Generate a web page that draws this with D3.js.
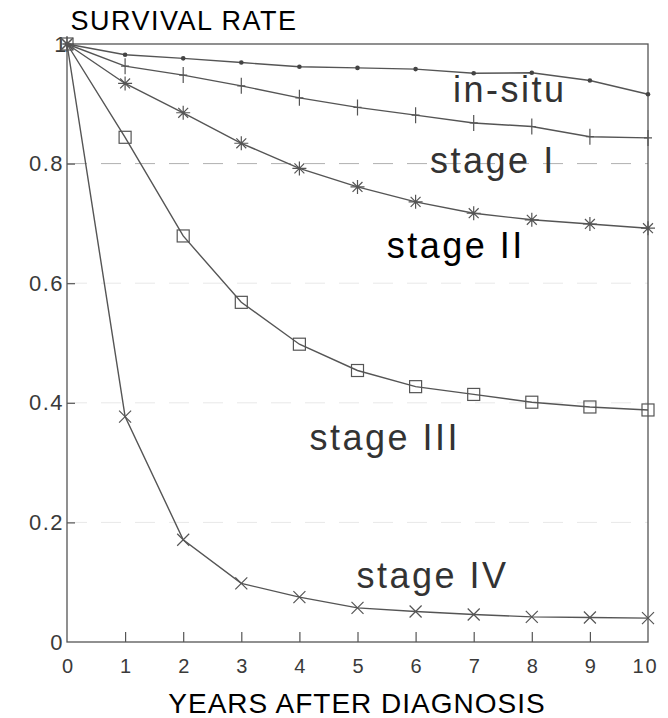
<!DOCTYPE html>
<html>
<head>
<meta charset="utf-8">
<script src="https://cdn.jsdelivr.net/npm/d3@7"></script>
<style>
  html, body { margin: 0; padding: 0; background: #fff; }
  svg { display: block; }
</style>
</head>
<body>
<svg id="chart" width="668" height="718"></svg>
<script>
const years = [0, 1, 2, 3, 4, 5, 6, 7, 8, 9, 10];
const inSitu   = [1, 0.982, 0.976, 0.969, 0.962, 0.960, 0.958, 0.951, 0.952, 0.939, 0.916];
const stageI   = [1, 0.963, 0.948, 0.930, 0.910, 0.894, 0.881, 0.868, 0.862, 0.845, 0.843];
const stageII  = [1, 0.934, 0.885, 0.834, 0.792, 0.761, 0.736, 0.717, 0.706, 0.699, 0.692];
const stageIII = [1, 0.844, 0.679, 0.568, 0.498, 0.454, 0.427, 0.414, 0.401, 0.393, 0.388];
const stageIV  = [1, 0.377, 0.171, 0.098, 0.075, 0.057, 0.051, 0.046, 0.042, 0.041, 0.040];
const seriesNames = ["in-situ", "stage I", "stage II", "stage III", "stage IV"];
const yTicks = [0, 0.2, 0.4, 0.6, 0.8, 1];
const xTicks = years;
const yTickLabels = ["0", "0.2", "0.4", "0.6", "0.8", "1"];
const yTitle = "SURVIVAL RATE";
const xTitle = "YEARS AFTER DIAGNOSIS";

const svg = d3.select("#chart");
const W = 668, H = 718;
const x = d3.scaleLinear().domain([0, 10]).range([67, 648]);
const y = d3.scaleLinear().domain([0, 1]).range([642, 44]);
const lineColor = "#555";
const font = "'Liberation Sans', Arial, Helvetica, sans-serif";

svg.append("rect").attr("width", W).attr("height", H).attr("fill", "#fff");

// gridlines (dashed)
svg.append("g").selectAll("line").data(yTicks.filter(t => t > 0 && t < 1)).join("line")
  .attr("x1", x(0)).attr("x2", x(10))
  .attr("y1", d => y(d)).attr("y2", d => y(d))
  .attr("stroke", d => d === 0.8 ? "#b0b0b0" : "#e8e8e8")
  .attr("stroke-width", 1)
  .attr("stroke-dasharray", "20,14");

// frame
svg.append("rect")
  .attr("x", x(0)).attr("y", y(1))
  .attr("width", x(10) - x(0)).attr("height", y(0) - y(1))
  .attr("fill", "none").attr("stroke", lineColor).attr("stroke-width", 1.3);

// x axis (ticks inward)
const xAxis = d3.axisBottom(x).tickValues(xTicks).tickSize(-10).tickPadding(24).tickFormat(d3.format("d"));
const gx = svg.append("g").attr("transform", `translate(0,${y(0)})`).call(xAxis);
gx.select(".domain").remove();
gx.selectAll(".tick line").attr("stroke", lineColor).attr("stroke-width", 1.2)
  .filter(d => d === 0 || d === 10).remove();
gx.selectAll(".tick text").attr("font-family", font).attr("font-size", 20)
  .attr("fill", "#3a3a3a").attr("dy", "0.35em");
gx.selectAll(".tick text").filter(d => d === 10).attr("letter-spacing", 2).attr("x", -3);

// y axis (ticks inward)
const yAxis = d3.axisLeft(y).tickValues(yTicks).tickSize(-8).tickPadding(3)
  .tickFormat((d, i) => yTickLabels[i]);
const gy = svg.append("g").attr("transform", `translate(${x(0)},0)`).call(yAxis);
gy.select(".domain").remove();
gy.selectAll(".tick line").attr("stroke", lineColor).attr("stroke-width", 1.2)
  .filter(d => d === 0 || d === 1).remove();
gy.selectAll(".tick text").attr("font-family", font).attr("font-size", 22)
  .attr("fill", "#3a3a3a").attr("letter-spacing", 1.5);
gy.selectAll(".tick text").filter(d => d === 1).attr("x", 1);

// lines
const line = d3.line().x((d, i) => x(years[i])).y(d => y(d));
const all = [inSitu, stageI, stageII, stageIII, stageIV];
svg.append("g").selectAll("path").data(all).join("path")
  .attr("d", d => line(d)).attr("fill", "none")
  .attr("stroke", lineColor).attr("stroke-width", 1.4);

// markers
const pts = s => s.map((v, i) => [x(years[i]), y(v)]);
const mk = svg.append("g").attr("stroke", "#555").attr("fill", "none").attr("stroke-width", 1.2);

// in-situ dots
mk.selectAll(".dot").data(pts(inSitu)).join("circle").attr("class", "dot")
  .attr("cx", d => d[0]).attr("cy", d => d[1]).attr("r", 2.3)
  .attr("fill", "#444").attr("stroke", "none");

// stage I plus
mk.selectAll(".plus").data(pts(stageI)).join("path").attr("class", "plus")
  .attr("d", d => `M${d[0]},${d[1]-8}V${d[1]+8}M${d[0]-4},${d[1]}H${d[0]+4}`);

// stage II asterisk
mk.selectAll(".ast").data(pts(stageII)).join("path").attr("class", "ast")
  .attr("d", d => {
    const r = 7; let p = "";
    for (let k = 0; k < 4; k++) {
      const a = k * Math.PI / 4;
      p += `M${d[0]-r*Math.cos(a)},${d[1]-r*Math.sin(a)}L${d[0]+r*Math.cos(a)},${d[1]+r*Math.sin(a)}`;
    }
    return p;
  });

// stage III squares
mk.selectAll(".sq").data(pts(stageIII)).join("rect").attr("class", "sq")
  .attr("x", d => d[0] - 6).attr("y", d => d[1] - 6)
  .attr("width", 12).attr("height", 12);

// stage IV crosses
mk.selectAll(".xx").data(pts(stageIV)).join("path").attr("class", "xx")
  .attr("d", d => {
    const r = 6;
    return `M${d[0]-r},${d[1]-r}L${d[0]+r},${d[1]+r}M${d[0]-r},${d[1]+r}L${d[0]+r},${d[1]-r}`;
  });

// series labels
const labelPos = [
  { name: seriesNames[0], xv: 7.62, yv: 0.903, color: "#333" },
  { name: seriesNames[1], xv: 7.33, yv: 0.784, color: "#333" },
  { name: seriesNames[2], xv: 6.69, yv: 0.642, color: "#000" },
  { name: seriesNames[3], xv: 5.47, yv: 0.321, color: "#333" },
  { name: seriesNames[4], xv: 6.29, yv: 0.090, color: "#333" }
];
svg.append("g").selectAll("text").data(labelPos).join("text")
  .attr("x", d => x(d.xv)).attr("y", d => y(d.yv))
  .attr("text-anchor", "middle")
  .attr("font-family", font).attr("font-size", 36).attr("letter-spacing", 2.5)
  .attr("fill", d => d.color)
  .text(d => d.name);

// titles
svg.append("text").attr("x", 184).attr("y", 30).attr("text-anchor", "middle")
  .attr("font-family", font).attr("font-size", 27).attr("letter-spacing", 1.5)
  .attr("fill", "#000").text(yTitle);
svg.append("text").attr("x", 357).attr("y", 713).attr("text-anchor", "middle")
  .attr("font-family", font).attr("font-size", 28).attr("letter-spacing", 1)
  .attr("fill", "#000").text(xTitle);
</script>
</body>
</html>
